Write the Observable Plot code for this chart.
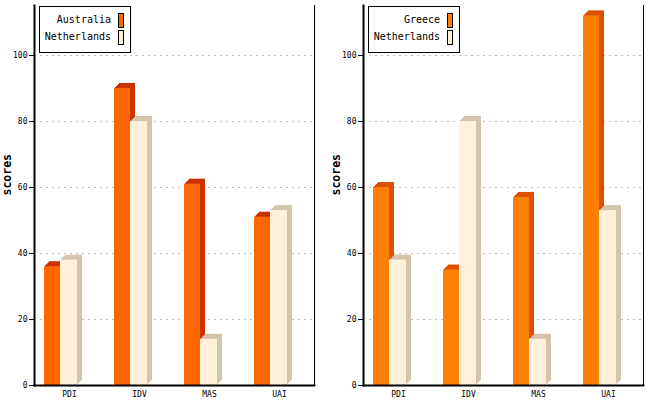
<!DOCTYPE html>
<html>
<head>
<meta charset="utf-8">
<script src="https://cdn.jsdelivr.net/npm/d3@7"></script>
<script src="https://cdn.jsdelivr.net/npm/@observablehq/plot@0.6"></script>
<style>
  html, body { margin: 0; padding: 0; background: #fff; }
  #wrap { position: relative; width: 647px; height: 401px; overflow: hidden; }
  #wrap > div, #wrap > svg { position: absolute; top: 0; }
  svg text { font-family: "DejaVu Sans Mono", monospace; }
</style>
</head>
<body>
<div id="wrap"></div>
<script>
const categories = ["PDI", "IDV", "MAS", "UAI"];
const australia = [36, 90, 61, 51];
const netherlands = [38, 80, 14, 53];
const greece = [60, 35, 57, 112];
const yTicks = [0, 20, 40, 60, 80, 100];
const gridTicks = [20, 40, 60, 80, 100];
const yLabel = "scores";

const colAustralia = {front: "#ff6600", side: "#cc3300"};
const colGreece = {front: "#ff7f00", side: "#dd5000"};
const colNetherlands = {front: "#fff0dc", side: "#d4c4aa"};

const depth = 5;
const H = 401;
const insets = [{insetLeft: 10, insetRight: 44}, {insetLeft: 26, insetRight: 27}];

function chart(series, width, marginRight) {
  const marks = [
    Plot.gridY(gridTicks, {stroke: "#bcbcbc", strokeOpacity: 1, strokeDasharray: "2,4", shapeRendering: "crispEdges"})
  ];
  series.forEach((s, si) => {
    const d = s.values.map((v, i) => ({cat: categories[i], value: v}));
    const ins = insets[si];
    for (let k = depth; k >= 1; k--) {
      marks.push(Plot.barY(d, {x: "cat", y: "value", fill: s.side, ...ins, dx: k, dy: -k}));
    }
    marks.push(Plot.barY(d, {x: "cat", y: "value", fill: s.front, ...ins}));
  });
  marks.push(
    Plot.axisY({ticks: yTicks, tickSize: 5, tickPadding: 2, label: null, fontSize: 8, fill: "black"}),
    Plot.axisX({tickSize: 0, tickPadding: 6, label: null, fontSize: 8, fill: "black"}),
    Plot.frame({anchor: "left", strokeWidth: 2, stroke: "black"}),
    Plot.frame({anchor: "bottom", strokeWidth: 2, stroke: "black"}),
    Plot.frame({anchor: "right", strokeWidth: 1, stroke: "black"}),
    Plot.text([yLabel], {frameAnchor: "left", dx: -27, rotate: -90, fontSize: 11.5, fontWeight: "bold", fill: "black"})
  );
  return Plot.plot({
    width, height: H,
    marginLeft: 34, marginRight, marginTop: 5, marginBottom: 16,
    style: {fontFamily: "DejaVu Sans Mono", fontSize: "8px", color: "black", background: "transparent"},
    x: {type: "band", domain: categories, padding: 0},
    y: {domain: [0, 115.15]},
    marks
  });
}

function legend(svg, left, series) {
  const g = svg.append("g").attr("transform", `translate(${left},6)`);
  g.append("rect").attr("x", 0.5).attr("y", 0.5).attr("width", 91).attr("height", 46)
    .attr("fill", "white").attr("stroke", "black").attr("stroke-width", 1);
  series.forEach((s, i) => {
    g.append("text").attr("x", 72).attr("y", 17 + i * 17).attr("text-anchor", "end")
      .attr("font-size", 10).attr("fill", "black").text(s.name);
    g.append("rect").attr("x", 79.5).attr("y", 7.5 + i * 17).attr("width", 5).attr("height", 14)
      .attr("fill", s.front).attr("stroke", "black").attr("stroke-width", 1);
  });
}

const left = [
  {name: "Australia", values: australia, ...colAustralia},
  {name: "Netherlands", values: netherlands, ...colNetherlands}
];
const right = [
  {name: "Greece", values: greece, ...colGreece},
  {name: "Netherlands", values: netherlands, ...colNetherlands}
];

const wrap = document.getElementById("wrap");
const c1 = document.createElement("div"); c1.style.left = "0px";
c1.appendChild(chart(left, 320, 6));
const c2 = document.createElement("div"); c2.style.left = "329px";
c2.appendChild(chart(right, 318, 4));
wrap.appendChild(c1); wrap.appendChild(c2);

const over = d3.select(wrap).append("svg").attr("width", 647).attr("height", 401).style("left", "0px");
legend(over, 39, left);
legend(over, 368, right);
</script>
</body>
</html>
